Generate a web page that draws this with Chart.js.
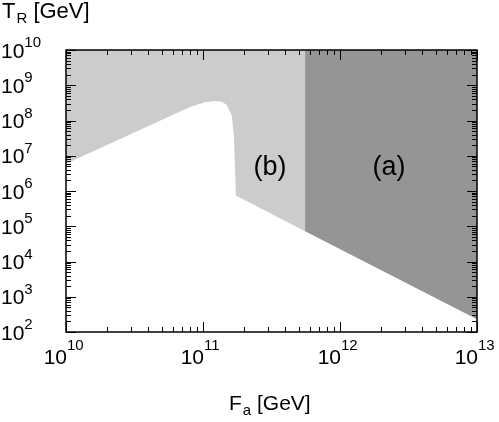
<!DOCTYPE html>
<html>
<head>
<meta charset="utf-8">
<script src="https://cdn.jsdelivr.net/npm/chart.js@4/dist/chart.umd.min.js"></script>
<style>
  html, body { margin: 0; padding: 0; background: #fff; }
  canvas { display: block; }
</style>
</head>
<body>
<canvas id="c" width="499" height="422"></canvas>
<script>
// 領域 (b)：下側の境界（F_a [GeV], T_R [GeV]）
const FA_B = [1e10, 8.04e10, 1.035e11, 1.225e11, 1.38e11, 1.496e11, 1.62e11, 1.68e11, 1.714e11, 1.738e11, 5.56e11];
const TR_B = [5.9e6, 2.4e8, 3.3e8, 3.6e8, 3.4e8, 2.7e8, 1.4e8, 3.8e7, 4.4e6, 7.4e5, 7.2e4];
// 領域 (a)：下側の境界
const FA_A = [5.56e11, 1e13];
const TR_A = [7.2e4, 2.3e2];

// 軸の目盛り（10のべき）
const X_EXP = [10, 11, 12, 13];
const Y_EXP = [2, 3, 4, 5, 6, 7, 8, 9, 10];

const COLORS = {
  light: '#cccccc',
  dark: '#959595',
  ink: '#000000',
};
const FONT = '"Liberation Sans", Arial, Helvetica, sans-serif';

const toPoints = (xs, ys) => xs.map((v, i) => ({ x: v, y: ys[i] }));

// 枠・内向き目盛り・ラベル
const axisDeco = {
  id: 'axisDeco',
  afterDraw(chart) {
    const { ctx, chartArea: a, scales: { x, y } } = chart;
    ctx.save();

    // 目盛り
    ctx.strokeStyle = COLORS.ink;
    ctx.lineWidth = 1;
    ctx.beginPath();
    X_EXP.forEach((e, i) => {
      for (let m = 1; m < 10; m++) {
        if (m > 1 && i === X_EXP.length - 1) break;
        const px = Math.round(x.getPixelForValue(m * Math.pow(10, e))) + 0.5;
        const len = m === 1 ? 10 : 5;
        ctx.moveTo(px, a.bottom); ctx.lineTo(px, a.bottom - len);
        ctx.moveTo(px, a.top); ctx.lineTo(px, a.top + len);
      }
    });
    Y_EXP.forEach((e, i) => {
      for (let m = 1; m < 10; m++) {
        if (m > 1 && i === Y_EXP.length - 1) break;
        const py = Math.round(y.getPixelForValue(m * Math.pow(10, e))) + 0.5;
        const len = m === 1 ? 10 : 5;
        ctx.moveTo(a.left, py); ctx.lineTo(a.left + len, py);
        ctx.moveTo(a.right, py); ctx.lineTo(a.right - len, py);
      }
    });
    ctx.stroke();

    // 枠
    ctx.lineWidth = 1.5;
    ctx.strokeRect(a.left, a.top, a.right - a.left, a.bottom - a.top);

    ctx.fillStyle = COLORS.ink;
    ctx.textBaseline = 'alphabetic';

    // x 軸ラベル
    X_EXP.forEach(e => {
      const px = x.getPixelForValue(Math.pow(10, e));
      ctx.font = `21px ${FONT}`;
      ctx.textAlign = 'right';
      ctx.fillText('10', px + 1, 364);
      ctx.font = `15px ${FONT}`;
      ctx.textAlign = 'left';
      ctx.fillText(String(e), px + 1, 350);
    });

    // y 軸ラベル
    Y_EXP.forEach(e => {
      const py = y.getPixelForValue(Math.pow(10, e));
      ctx.font = `21px ${FONT}`;
      ctx.textAlign = 'left';
      ctx.fillText('10', 1, py + 7.5);
      const w = ctx.measureText('10').width;
      ctx.font = `15px ${FONT}`;
      ctx.fillText(String(e), 1 + w, py - 3);
    });

    // 軸タイトル
    const drawSub = (main, sub, rest, x0, base, size) => {
      ctx.textAlign = 'left';
      ctx.font = `${size}px ${FONT}`;
      ctx.fillText(main, x0, base);
      let cx = x0 + ctx.measureText(main).width + 1;
      ctx.font = `15px ${FONT}`;
      ctx.fillText(sub, cx, base + 5);
      cx += ctx.measureText(sub).width;
      ctx.font = `${size}px ${FONT}`;
      ctx.fillText(rest, cx, base);
    };
    drawSub('T', 'R', ' [GeV]', 2, 18, 22);
    drawSub('F', 'a', ' [GeV]', 229, 410, 21);

    // 領域ラベル
    ctx.font = `27px ${FONT}`;
    ctx.textAlign = 'center';
    ctx.fillText('(b)', 270, 175);
    ctx.fillText('(a)', 389, 175);

    ctx.restore();
  },
};

new Chart(document.getElementById('c'), {
  type: 'line',
  data: {
    datasets: [
      {
        label: '(a)',
        data: toPoints(FA_A, TR_A),
        borderWidth: 0,
        pointRadius: 0,
        backgroundColor: COLORS.dark,
        fill: 'end',
        tension: 0,
      },
      {
        label: '(b)',
        data: toPoints(FA_B, TR_B),
        borderWidth: 0,
        pointRadius: 0,
        backgroundColor: COLORS.light,
        fill: 'end',
        tension: 0,
      },
    ],
  },
  options: {
    responsive: false,
    animation: false,
    devicePixelRatio: 1,
    layout: { padding: { left: 66, right: 22, top: 50, bottom: 90 } },
    scales: {
      x: { type: 'logarithmic', min: 1e10, max: 1e13, display: false },
      y: { type: 'logarithmic', min: 1e2, max: 1e10, display: false },
    },
    plugins: {
      legend: { display: false },
      tooltip: { enabled: false },
    },
  },
  plugins: [axisDeco],
});
</script>
</body>
</html>
